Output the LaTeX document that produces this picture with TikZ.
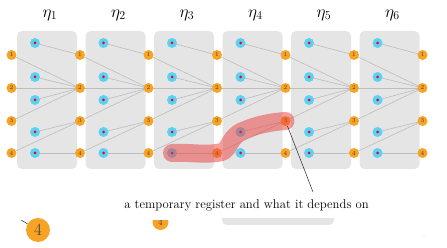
\documentclass[tikz,border=0pt]{standalone}
\usepackage{tikz}
\definecolor{orangeN}{HTML}{F7A325}
\definecolor{blueN}{HTML}{5AD2F7}
\definecolor{panelG}{HTML}{E5E5E5}
\definecolor{edgeG}{HTML}{BDBDBD}
\definecolor{blobR}{HTML}{EC3C3C}
\pgfdeclarelayer{panels}
\pgfdeclarelayer{edges}
\pgfdeclarelayer{top}
\pgfsetlayers{panels,edges,main,top}
\begin{document}
\begin{tikzpicture}[x=1pt,y=-1pt,
  panel/.style={fill=panelG, rounded corners=5pt},
  reg/.style={circle, fill=orangeN, minimum size=10pt, inner sep=0pt, font=\fontsize{6}{6}\selectfont, text=black!75},
  val/.style={circle, fill=blueN, minimum size=10pt, inner sep=0pt},
  dot/.style={circle, fill=red, minimum size=3pt, inner sep=0pt},
  dep/.style={draw=edgeG, line width=0.6pt},
  title/.style={font=\fontsize{17}{20}\selectfont},
  blob/.style={draw=blobR, opacity=0.5, line width=18pt, line cap=round, line join=round},
  callout/.style={draw=black!85, line width=0.5pt},
]
\useasboundingbox (0,0) rectangle (447,248);
% panels and titles
\foreach \k in {1,...,6} {
  \pgfmathsetmacro\L{17+68.5*(\k-1)}
  \begin{pgfonlayer}{panels}
    \fill[panel] (\L,31) rectangle ++(60,138);
  \end{pgfonlayer}
  \node[title] (eta\k) at (\L+33,15) {$\eta_{\k}$};
}
% register nodes
\foreach \k in {0,...,6} {
  \foreach \i/\y in {1/55,2/88,3/121,4/153} {
    \node[reg] (o\k-\i) at (11.5+68.5*\k,\y) {\i};
  }
}
% value nodes
\foreach \k in {1,...,6} {
  \foreach \j/\y in {1/43,2/77,3/100,4/132,5/153} {
    \node[val] (b\k-\j) at (35+68.5*\k-68.5,\y) {};
    \node[dot] at (b\k-\j) {};
  }
}
% dependency edges
\begin{pgfonlayer}{edges}
\foreach \k [evaluate=\k as \p using int(\k-1)] in {1,...,6} {
  \draw[dep] (b\k-1.center) -- (o\k-1.center);
  \draw[dep] (o\p-1.center) -- (o\k-2.center);
  \draw[dep] (b\k-2.center) -- (o\k-2.center);
  \draw[dep] (o\p-2.center) -- (o\k-2.center);
  \draw[dep] (b\k-3.center) -- (o\k-2.center);
  \draw[dep] (o\p-3.center) -- (o\k-2.center);
  \draw[dep] (b\k-4.center) -- (o\k-3.center);
  \draw[dep] (o\p-4.center) -- (o\k-3.center);
  \draw[dep] (b\k-5.center) -- (o\k-4.center);
}
\end{pgfonlayer}
% highlight
\begin{pgfonlayer}{top}
\draw[blob] (b3-5.center) .. controls +(20,-1) and +(-18,2) .. (o3-4.center)
  .. controls +(14,-1) and +(-14,8) .. (b4-4.center)
  .. controls +(12,-6) and +(-16,1) .. (o4-3.center);
\node[font=\fontsize{12.7}{15}\selectfont] (note) at (246.5,205) {a temporary register and what it depends on};
\coordinate (tip) at (313,192);
\draw[callout] (o4-3) -- (tip);
\end{pgfonlayer}
% cut-off pieces at the bottom
\node[reg, minimum size=24pt, font=\fontsize{17}{18}\selectfont] (big4) at (38,230) {4};
\coordinate (stub) at (21,220);
\draw[callout] (stub) -- (big4);
\begin{scope}
  \clip (140,220.5) rectangle (180,240);
  \node[reg, minimum size=16pt, font=\fontsize{9}{10}\selectfont] (part4) at (160.5,222) {4};
\end{scope}
\begin{scope}
  \clip (200,219) rectangle (350,230);
  \fill[panel] (222,200) rectangle (334,225);
\end{scope}
\fill[black!25] (424,236.5) circle (0.4pt);
\end{tikzpicture}
\end{document}
